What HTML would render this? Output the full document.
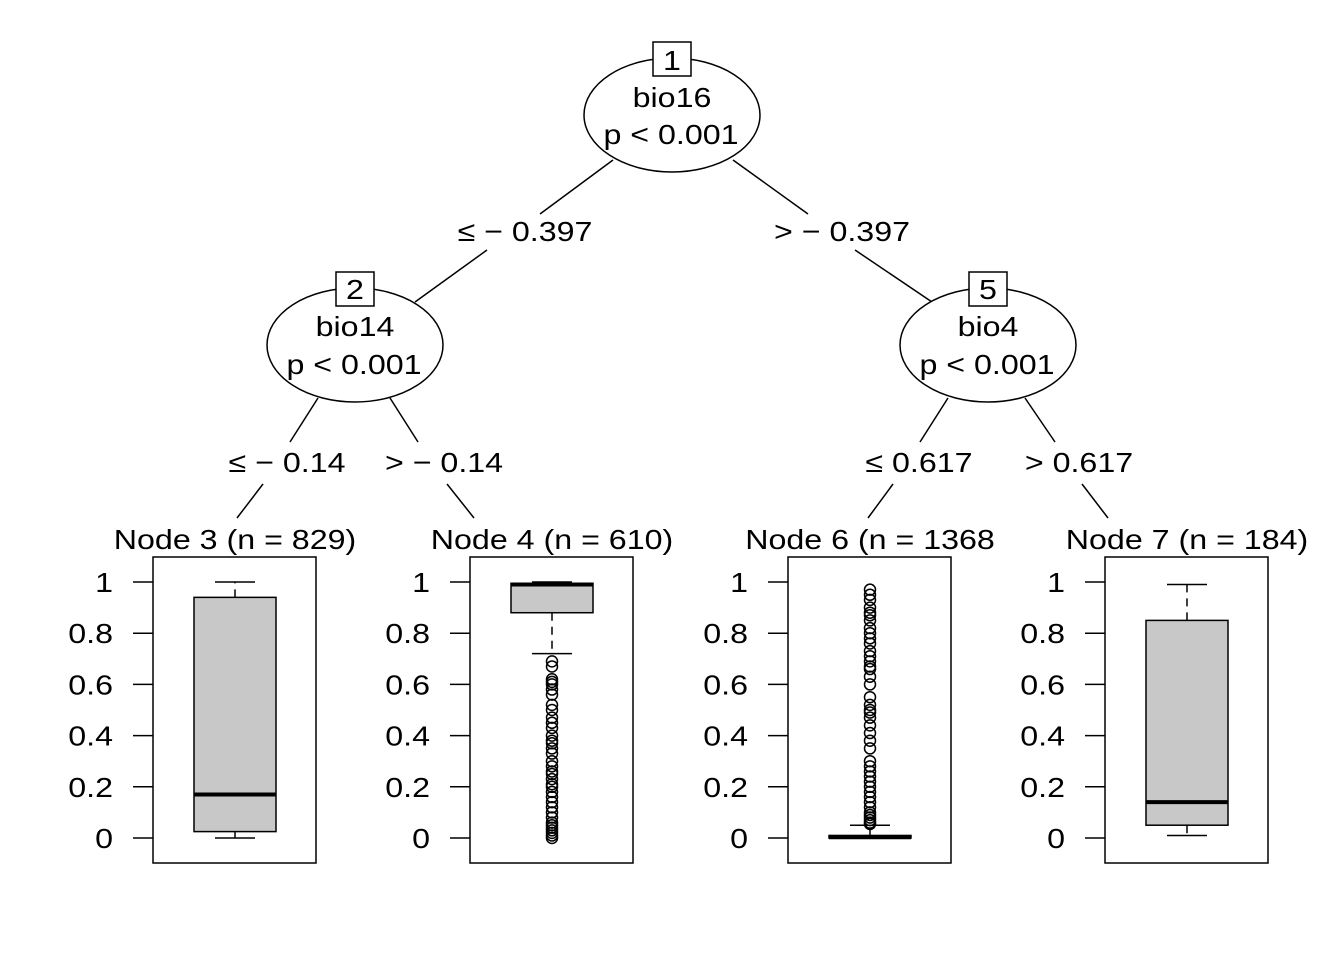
<!DOCTYPE html>
<html><head><meta charset="utf-8"><style>body{margin:0;background:#fff}svg{display:block;font-family:"Liberation Sans",sans-serif}</style></head>
<body>
<svg width="1344" height="960" viewBox="0 0 1344 960">
<rect width="1344" height="960" fill="#fff"/>
<g stroke="#000" stroke-width="1.5" fill="none">
<line x1="613" y1="160" x2="540" y2="214"/><line x1="487" y1="250" x2="415" y2="302"/>
<line x1="733" y1="160" x2="808" y2="214"/><line x1="855" y1="250" x2="932" y2="302"/>
<line x1="318" y1="398" x2="290" y2="442"/><line x1="263" y1="484" x2="237" y2="518"/>
<line x1="390" y1="398" x2="418" y2="442"/><line x1="447" y1="484" x2="474" y2="518"/>
<line x1="948" y1="398" x2="920" y2="442"/><line x1="893" y1="484" x2="868" y2="518"/>
<line x1="1025" y1="398" x2="1055" y2="442"/><line x1="1082" y1="484" x2="1108" y2="518"/>
</g>
<g font-size="28" text-anchor="middle" fill="#000">
<g>
<ellipse cx="672" cy="115" rx="88" ry="57" fill="#fff" stroke="#000" stroke-width="1.5"/>
<rect x="653" y="42" width="38" height="34" fill="#fff" stroke="#000" stroke-width="1.5"/>
<text transform="translate(672,70) scale(1.15,1)">1</text><text transform="translate(672,107) scale(1.15,1)">bio16</text><text transform="translate(671,144) scale(1.15,1)">p &lt; 0.001</text></g>
<g>
<ellipse cx="355" cy="345" rx="88" ry="57" fill="#fff" stroke="#000" stroke-width="1.5"/>
<rect x="336" y="272" width="38" height="34" fill="#fff" stroke="#000" stroke-width="1.5"/>
<text transform="translate(355,299) scale(1.15,1)">2</text><text transform="translate(355,336) scale(1.15,1)">bio14</text><text transform="translate(354,374) scale(1.15,1)">p &lt; 0.001</text></g>
<g>
<ellipse cx="988" cy="345" rx="88" ry="57" fill="#fff" stroke="#000" stroke-width="1.5"/>
<rect x="969" y="272" width="38" height="34" fill="#fff" stroke="#000" stroke-width="1.5"/>
<text transform="translate(988,299) scale(1.15,1)">5</text><text transform="translate(988,336) scale(1.15,1)">bio4</text><text transform="translate(987,374) scale(1.15,1)">p &lt; 0.001</text></g>
<text transform="translate(525,241) scale(1.15,1)">≤ − 0.397</text>
<text transform="translate(842,241) scale(1.15,1)">&gt; − 0.397</text>
<text transform="translate(287,472) scale(1.15,1)">≤ − 0.14</text>
<text transform="translate(444,472) scale(1.15,1)">&gt; − 0.14</text>
<text transform="translate(919,472) scale(1.15,1)">≤ 0.617</text>
<text transform="translate(1079,472) scale(1.15,1)">&gt; 0.617</text>
</g>
<g id="panels"></g>
</svg>
<script>
const nodeTitles = ["Node 3 (n = 829)", "Node 4 (n = 610)", "Node 6 (n = 1368", "Node 7 (n = 184)"];
const panelLeft = [153, 470, 788, 1105];
const lowWhisk = [0, 0.72, 0, 0.01];
const q1 = [0.025, 0.88, 0, 0.05];
const medians = [0.17, 0.99, 0.003, 0.14];
const q3 = [0.94, 0.995, 0.01, 0.85];
const highWhisk = [1, 1, 0.05, 0.99];
const outliers4 = [0.69,0.67,0.62,0.61,0.6,0.58,0.56,0.52,0.5,0.47,0.45,0.43,0.4,0.38,0.37,0.35,0.33,0.3,0.28,0.26,0.25,0.23,0.21,0.2,0.18,0.16,0.14,0.12,0.1,0.08,0.06,0.05,0.04,0.03,0.02,0.01,0];
const outliers6 = [0.97,0.95,0.93,0.9,0.88,0.87,0.85,0.82,0.8,0.78,0.76,0.73,0.71,0.69,0.67,0.66,0.63,0.6,0.55,0.52,0.5,0.49,0.47,0.44,0.41,0.38,0.35,0.3,0.28,0.26,0.24,0.22,0.2,0.18,0.16,0.14,0.12,0.1,0.09,0.08,0.07,0.06,0.055];
const outlierSets = [[], outliers4, outliers6, []];
const yTicks = [0, 0.2, 0.4, 0.6, 0.8, 1];
const tickLabels = ["0", "0.2", "0.4", "0.6", "0.8", "1"];
const NS = "http://www.w3.org/2000/svg";
const y = v => 838 - v * 256;
const g = document.getElementById('panels');
function mk(tag, at, parent) { const e = document.createElementNS(NS, tag); for (const k in at) e.setAttribute(k, at[k]); parent.appendChild(e); return e; }
nodeTitles.forEach((t, i) => {
  const L = panelLeft[i], W = 163, cx = L + 82, bw = 41;
  const p = mk('g', {}, g);
  
  
  const title = mk('text', {transform: 'translate(' + cx + ',549) scale(1.15,1)', 'font-size': 28, 'text-anchor': 'middle'}, p);
  title.textContent = t;
  
  
  const fr = mk('rect', {x: L, y: 557, width: W, height: 306, fill: '#fff', stroke: '#000', 'stroke-width': 1.5}, p);
  
  
  yTicks.forEach((v, k) => {
    mk('line', {x1: L - 20, x2: L, y1: y(v), y2: y(v), stroke: '#000', 'stroke-width': 1.5}, p);
    const tl = mk('text', {transform: 'translate(' + (L - 40) + ',' + (y(v) + 10) + ') scale(1.15,1)', 'font-size': 28, 'text-anchor': 'end'}, p);
    tl.textContent = tickLabels[k];
    
    
  });
  const d = '8,6';
  mk('line', {x1: cx, x2: cx, y1: y(q3[i]), y2: y(highWhisk[i]), stroke: '#000', 'stroke-width': 1.5, 'stroke-dasharray': d}, p);
  mk('line', {x1: cx, x2: cx, y1: y(q1[i]), y2: y(lowWhisk[i]), stroke: '#000', 'stroke-width': 1.5, 'stroke-dasharray': d}, p);
  mk('line', {x1: cx - 20, x2: cx + 20, y1: y(highWhisk[i]), y2: y(highWhisk[i]), stroke: '#000', 'stroke-width': 1.5}, p);
  mk('line', {x1: cx - 20, x2: cx + 20, y1: y(lowWhisk[i]), y2: y(lowWhisk[i]), stroke: '#000', 'stroke-width': 1.5}, p);
  const bx = mk('rect', {x: cx - bw, y: y(q3[i]), width: 2 * bw, height: Math.max(1, y(q1[i]) - y(q3[i])), fill: '#c8c8c8', stroke: '#000', 'stroke-width': 1.5}, p);
  
  
  const md = mk('line', {x1: cx - bw, x2: cx + bw, y1: y(medians[i]), y2: y(medians[i]), stroke: '#000', 'stroke-width': 4}, p);
  
  
  outlierSets[i].forEach(v => {
    const c = mk('circle', {cx: cx, cy: y(v), r: 5.5, fill: 'none', stroke: '#000', 'stroke-width': 1.5}, p);
    
    
  });
});
</script>
</body></html>
